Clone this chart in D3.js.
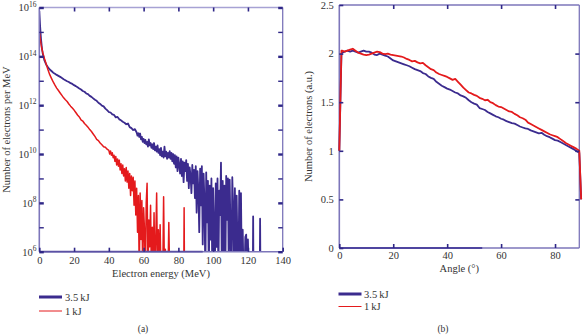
<!DOCTYPE html>
<html>
<head>
<meta charset="utf-8">
<script src="https://cdn.jsdelivr.net/npm/d3@7"></script>
<style>
    body { margin: 0; background: #fff; }
    svg { display: block; font-family: "Liberation Serif", "DejaVu Serif", serif; }
</style>
</head>
<body>
<svg id="chart" width="583" height="335"></svg>
<script>
// ---- data: (a) electron spectra, [energy MeV, log10(N per MeV)] ----
// values below 6 sit under the 10^6 floor and get clipped
const spec35kJ = [
    [0, 15.85], [0.5, 15.2], [1, 14.7], [1.5, 14.35], [2, 14.1], [2.5, 13.95], [3, 13.82],
    [4, 13.66], [5, 13.55], [6, 13.46], [7, 13.40], [8, 13.33], [9, 13.29], [10, 13.24],
    [11, 13.20], [12, 13.16], [13, 13.11], [14, 13.06], [15, 13.02], [16, 12.98], [17, 12.95],
    [18, 12.90], [19, 12.87], [20, 12.82], [21, 12.78], [22, 12.73], [23, 12.68], [24, 12.64],
    [25, 12.58], [26, 12.55], [27, 12.48], [28, 12.45], [29, 12.38], [30, 12.34], [31, 12.28],
    [32, 12.22], [33, 12.18], [34, 12.10], [35, 12.05], [36, 11.98], [37, 11.95], [38, 11.86],
    [39, 11.80], [40, 11.72], [41, 11.70], [42, 11.62], [43, 11.60], [44, 11.50], [45, 11.52],
    [46, 11.42], [47, 11.38], [48, 11.32], [49, 11.28], [50, 11.22], [51, 11.25], [52, 11.10],
    [53, 11.06], [54, 10.98], [55, 11.02], [56, 10.88], [56.5, 10.75], [57, 10.85], [57.5, 10.7],
    [58, 10.84], [58.5, 10.6], [59, 10.7], [59.5, 10.5], [60, 10.62], [60.5, 10.45], [61, 10.58],
    [61.5, 10.4], [62, 10.5], [62.5, 10.3], [63, 10.6], [63.5, 10.35], [64, 10.45], [64.5, 10.25],
    [65, 10.4], [65.5, 10.2], [66, 10.45], [66.5, 10.15], [67, 10.3], [67.5, 10.1], [68, 10.35],
    [68.5, 10.05], [69, 10.2], [69.5, 9.95], [70, 10.25], [70.5, 9.9], [71, 10.1], [71.5, 9.85],
    [72, 10.3], [72.5, 9.9], [73, 10.1], [73.5, 9.8], [74, 10.05], [74.5, 9.85], [75, 10.12],
    [75.5, 9.8], [76, 10.05], [76.5, 9.7], [77, 10.0], [77.5, 9.6], [78, 9.95], [78.5, 9.45],
    [79, 9.9], [79.5, 9.3], [80, 9.85], [80.5, 9.55], [81, 9.2], [81.5, 9.8], [82, 9.1],
    [82.5, 9.7], [83, 8.85], [83.5, 9.65], [84, 9.3], [84.5, 9.75], [85, 8.9], [85.5, 9.6],
    [86, 8.6], [86.5, 9.45], [87, 9.1], [87.5, 8.4], [88, 9.55], [88.5, 8.8], [89, 9.35],
    [89.5, 8.2], [90, 9.5], [90.5, 7.6], [91, 9.3], [91.5, 8.5], [92, 6.8], [92.5, 9.4],
    [93, 7.9], [93.5, 9.5], [94, 6.3], [94.5, 9.2], [95, 8.1], [95.5, 5], [96, 9.25],
    [96.5, 7.2], [97, 8.9], [97.5, 5], [98, 8.7], [98.5, 6.5], [99, 9.0], [99.5, 5], [100, 8.6],
    [100.5, 7.0], [101, 5], [101.5, 8.8], [102, 6.2], [102.5, 9.0], [103, 5], [103.5, 8.5],
    [104, 7.5], [104.5, 9.65], [105, 5], [105.5, 8.9], [106, 6.0], [106.5, 8.7], [107, 5],
    [107.5, 9.1], [108, 7.3], [108.5, 9.0], [109, 5], [109.5, 8.95], [110, 6.8], [110.5, 5],
    [111, 9.05], [111.5, 7.8], [112, 5], [112.5, 8.6], [113, 5], [113.5, 8.3], [114, 6.2],
    [114.5, 5], [115, 8.5], [115.5, 5], [116, 8.4], [116.5, 5], [117, 6.9], [117.5, 5],
    [118, 5], [118.5, 6.6], [119, 6.7], [119.5, 5], [120, 6.5], [120.5, 5], [122.8, 5],
    [123, 7.45], [123.2, 5], [126.8, 5], [127, 7.35], [127.2, 5], [130, 5]
];
const spec1kJ = [
    [0, 15.05], [0.5, 14.75], [1, 14.5], [1.5, 14.3], [2, 14.15], [3, 13.9], [4, 13.68],
    [5, 13.45], [6, 13.25], [7, 13.1], [8, 12.95], [9, 12.82], [10, 12.7], [11, 12.6],
    [12, 12.5], [13, 12.4], [14, 12.3], [15, 12.22], [16, 12.15], [17, 12.05], [18, 11.96],
    [19, 11.88], [20, 11.8], [21, 11.7], [22, 11.6], [23, 11.52], [24, 11.4], [25, 11.35],
    [26, 11.25], [27, 11.18], [28, 11.1], [29, 11.0], [30, 10.92], [31, 10.82], [32, 10.72],
    [33, 10.6], [34, 10.55], [35, 10.45], [36, 10.38], [37, 10.3], [38, 10.28], [39, 10.2],
    [40, 10.15], [40.5, 10.0], [41, 10.12], [41.5, 9.95], [42, 10.05], [42.5, 9.85], [43, 9.95],
    [43.5, 9.7], [44, 9.9], [44.5, 9.55], [45, 9.8], [45.5, 9.5], [46, 9.75], [46.5, 9.35],
    [47, 9.6], [47.5, 9.2], [48, 9.55], [48.5, 9.1], [49, 9.4], [49.5, 8.9], [50, 9.45],
    [50.5, 8.85], [51, 9.3], [51.5, 8.6], [52, 9.2], [52.5, 8.3], [53, 9.1], [53.5, 8.5],
    [54, 9.05], [54.5, 7.9], [55, 8.9], [55.5, 7.5], [56, 8.6], [56.5, 6.8], [57, 8.3],
    [57.5, 5], [58, 8.4], [58.5, 6.5], [59, 8.1], [59.5, 5], [60, 7.8], [60.5, 6.9], [61, 5],
    [61.5, 8.0], [62, 8.8], [62.5, 5], [63, 7.3], [63.5, 6.2], [64, 7.9], [64.5, 5], [65, 7.0],
    [65.5, 5], [66, 7.6], [66.5, 5], [67, 6.5], [67.5, 8.4], [68, 5], [68.5, 6.9], [69, 5],
    [69.5, 7.1], [70, 5], [70.5, 5.9], [71, 5], [71.5, 8.25], [72, 5], [72.5, 6.1], [73, 5],
    [74, 5], [74.5, 7.2], [75, 5], [83.1, 5], [83.3, 7.8], [83.5, 5], [85, 5]
];

// ---- data: (b) angular distribution ----
const angles = [0, 0.8, ...d3.range(1, 90), 89.7];
const dist35kJ = [1.0, 2.0,
    2.01, 2.02, 2.03, 2.02, 2.03, 2.02, 2.01, 2.02, 2.03, 2.02,
    2.02, 2.01, 1.99, 1.985, 2.0, 1.99, 1.98, 1.97, 1.95, 1.93,
    1.92, 1.91, 1.90, 1.89, 1.88, 1.87, 1.855, 1.84, 1.83, 1.82,
    1.80, 1.79, 1.765, 1.75, 1.74, 1.71, 1.69, 1.67, 1.655, 1.64,
    1.63, 1.615, 1.60, 1.59, 1.57, 1.56, 1.545, 1.52, 1.50, 1.485,
    1.475, 1.44, 1.43, 1.42, 1.40, 1.385, 1.37, 1.355, 1.345, 1.33,
    1.32, 1.305, 1.295, 1.285, 1.28, 1.265, 1.25, 1.24, 1.23, 1.225,
    1.21, 1.20, 1.19, 1.18, 1.185, 1.165, 1.15, 1.14, 1.125, 1.11,
    1.105, 1.09, 1.075, 1.06, 1.045, 1.03, 1.015, 0.995, 0.98,
    0.5];
const dist1kJ = [1.0, 2.03,
    2.03, 2.02, 2.03, 2.04, 2.05, 2.03, 2.01, 2.0, 1.99, 1.985,
    1.99, 2.0, 2.01, 2.02, 2.015, 2.0, 1.995, 2.0, 1.99, 1.985,
    1.98, 1.975, 1.97, 1.96, 1.945, 1.935, 1.92, 1.925, 1.91, 1.90,
    1.905, 1.88, 1.86, 1.84, 1.83, 1.805, 1.79, 1.78, 1.77, 1.76,
    1.745, 1.73, 1.74, 1.71, 1.68, 1.65, 1.625, 1.60, 1.59, 1.575,
    1.565, 1.545, 1.535, 1.52, 1.525, 1.50, 1.49, 1.47, 1.455, 1.45,
    1.435, 1.42, 1.405, 1.40, 1.38, 1.365, 1.345, 1.335, 1.32, 1.29,
    1.275, 1.26, 1.245, 1.23, 1.215, 1.20, 1.185, 1.17, 1.16, 1.15,
    1.14, 1.12, 1.10, 1.08, 1.065, 1.05, 1.035, 1.02, 1.0,
    0.5];

const seriesNames = ["3.5\u2009kJ", "1\u2009kJ"];
const energyTicks = [0, 20, 40, 60, 80, 100, 120, 140];
const decadeTicks = [6, 7, 8, 9, 10, 11, 12, 13, 14, 15, 16];
const angleTicks = [0, 20, 40, 60, 80];
const countTicks = [0, 0.5, 1, 1.5, 2, 2.5];

const blue = "#3b2b8e", red = "#e41a1c";
const frameColor = "#7d76ba", tickColor = "#2f2787", textColor = "#333";

let svg = d3.select("#chart");

function styleAxis(g) {
    g.select(".domain").remove();
    g.selectAll(".tick line").attr("stroke", tickColor).attr("stroke-width", 1.6);
    g.selectAll(".tick text")
        .attr("font-family", "Liberation Serif, DejaVu Serif, serif")
        .attr("font-size", 10.5)
        .attr("fill", textColor);
}

function frame(x0, x1, y0, y1, topColor) {
    svg.append("line").attr("x1", x0).attr("x2", x1).attr("y1", y0).attr("y2", y0)
        .attr("stroke", topColor).attr("stroke-width", 1.5);
    svg.append("line").attr("x1", x1).attr("x2", x1).attr("y1", y0).attr("y2", y1)
        .attr("stroke", frameColor).attr("stroke-width", 1.3);
    svg.append("line").attr("x1", x0).attr("x2", x0).attr("y1", y0).attr("y2", y1)
        .attr("stroke", frameColor).attr("stroke-width", 1.6);
    svg.append("line").attr("x1", x0).attr("x2", x1).attr("y1", y1).attr("y2", y1)
        .attr("stroke", frameColor).attr("stroke-width", 1.6);
}

function legend(x, y1, y2, txtX, b1, b2) {
    svg.append("line").attr("x1", x).attr("x2", x + 23).attr("y1", y1).attr("y2", y1)
        .attr("stroke", blue).attr("stroke-width", 3);
    svg.append("line").attr("x1", x).attr("x2", x + 23).attr("y1", y2).attr("y2", y2)
        .attr("stroke", red).attr("stroke-width", 1);
    svg.append("text").attr("x", txtX).attr("y", b1).attr("font-size", 10.5)
        .attr("fill", textColor).text(seriesNames[0]);
    svg.append("text").attr("x", txtX).attr("y", b2).attr("font-size", 10.5)
        .attr("fill", textColor).text(seriesNames[1]);
}

// ================= panel (a) =================
const xA = d3.scaleLinear().domain([0, 140]).range([39.3, 282.7]);
const yA = d3.scaleLog().domain([1e6, 1e16]).range([251.7, 7.5]);

svg.append("clipPath").attr("id", "clipA").append("rect")
    .attr("x", xA(0)).attr("y", yA(1e16))
    .attr("width", xA(140) - xA(0)).attr("height", yA(1e6) - yA(1e16));

let lineA = d3.line().x(d => xA(d[0])).y(d => yA(Math.pow(10, d[1])));
let plotA = svg.append("g").attr("clip-path", "url(#clipA)");
plotA.append("path").datum(spec35kJ).attr("d", lineA)
    .attr("fill", "none").attr("stroke", blue).attr("stroke-width", 1.8).attr("stroke-linejoin", "round");
plotA.append("path").datum(spec1kJ).attr("d", lineA)
    .attr("fill", "none").attr("stroke", red).attr("stroke-width", 1.5).attr("stroke-linejoin", "round");

frame(xA(0), xA(140), yA(1e16), yA(1e6), "#a7a2d4");
// darker stretch of the baseline
svg.append("line").attr("x1", xA(0)).attr("x2", xA(94)).attr("y1", yA(1e6)).attr("y2", yA(1e6))
    .attr("stroke", "#5b51a4").attr("stroke-width", 1.8);

svg.append("g").attr("transform", `translate(0,${yA(1e6)})`)
    .call(d3.axisBottom(xA).tickValues(energyTicks).tickSizeInner(-4).tickSizeOuter(0).tickPadding(5))
    .call(styleAxis);
svg.append("g").attr("transform", `translate(0,${yA(1e16)})`)
    .call(d3.axisTop(xA).tickValues(energyTicks.slice(1, -1)).tickSizeInner(-4).tickSizeOuter(0).tickFormat(""))
    .call(styleAxis);
let yAxisL = svg.append("g").attr("transform", `translate(${xA(0)},0)`)
    .call(d3.axisLeft(yA).tickValues(decadeTicks.map(p => Math.pow(10, p))).tickSizeInner(-4.5).tickSizeOuter(0).tickFormat(""))
    .call(styleAxis);
let yAxisR = svg.append("g").attr("transform", `translate(${xA(140)},0)`)
    .call(d3.axisRight(yA).tickValues(decadeTicks.map(p => Math.pow(10, p))).tickSizeInner(-4.5).tickSizeOuter(0).tickFormat(""))
    .call(styleAxis);
[yAxisL, yAxisR].forEach(g => g.selectAll(".tick line")
    .attr("stroke-width", (d) => Math.round(Math.log10(d)) % 2 === 0 ? 2.4 : 1.4));

// power-of-ten labels
let decLabels = svg.append("g");
decadeTicks.filter(p => p % 2 === 0).forEach(p => {
    let t = decLabels.append("text")
        .attr("x", 36.5).attr("y", yA(Math.pow(10, p)) + 3.8)
        .attr("text-anchor", "end").attr("font-size", 10.5).attr("fill", textColor);
    t.append("tspan").text("10");
    t.append("tspan").attr("dy", -4.6).attr("font-size", 7.5).text(p);
});

svg.append("text")
    .attr("transform", `translate(10,${(yA(1e6) + yA(1e16)) / 2}) rotate(-90)`)
    .attr("text-anchor", "middle").attr("font-size", 10.5).attr("fill", textColor)
    .text("Number of electrons per MeV");
svg.append("text")
    .attr("x", (xA(0) + xA(140)) / 2).attr("y", 277)
    .attr("text-anchor", "middle").attr("font-size", 10.5).attr("fill", textColor)
    .text("Electron energy (MeV)");

legend(39, 297, 311, 65, 301, 315);
svg.append("text").attr("x", 143).attr("y", 332).attr("text-anchor", "middle")
    .attr("font-size", 9.5).attr("fill", textColor).text("(a)");

// ================= panel (b) =================
const xB = d3.scaleLinear().domain([0, 89]).range([339.3, 579.3]);
const yB = d3.scaleLinear().domain([0, 2.5]).range([248, 5]);

frame(xB(0), xB(89), yB(2.5), yB(0), frameColor);
svg.append("line").attr("x1", xB(0)).attr("x2", xB(53)).attr("y1", yB(0)).attr("y2", yB(0))
    .attr("stroke", "#4f45a0").attr("stroke-width", 1.8);

let lineB = d3.line().x((d, i) => xB(angles[i])).y(d => yB(d));
svg.append("path").datum(dist35kJ).attr("d", lineB)
    .attr("fill", "none").attr("stroke", blue).attr("stroke-width", 1.8).attr("stroke-linejoin", "round");
svg.append("path").datum(dist1kJ).attr("d", lineB)
    .attr("fill", "none").attr("stroke", red).attr("stroke-width", 1.8).attr("stroke-linejoin", "round");

svg.append("g").attr("transform", `translate(0,${yB(0)})`)
    .call(d3.axisBottom(xB).tickValues(angleTicks).tickSizeInner(-4).tickSizeOuter(0).tickPadding(3.6))
    .call(styleAxis);
svg.append("g").attr("transform", `translate(0,${yB(2.5)})`)
    .call(d3.axisTop(xB).tickValues(angleTicks.slice(1)).tickSizeInner(-4).tickSizeOuter(0).tickFormat(""))
    .call(styleAxis);
svg.append("g").attr("transform", `translate(${xB(0)},0)`)
    .call(d3.axisLeft(yB).tickValues(countTicks).tickSizeInner(-4).tickSizeOuter(0).tickPadding(5.5).tickFormat(d3.format("")))
    .call(styleAxis);
svg.append("g").attr("transform", `translate(${xB(89)},0)`)
    .call(d3.axisRight(yB).tickValues(countTicks.slice(1, -1)).tickSizeInner(-4).tickSizeOuter(0).tickFormat(""))
    .call(styleAxis);

svg.append("text")
    .attr("transform", `translate(312,${(yB(0) + yB(2.5)) / 2}) rotate(-90)`)
    .attr("text-anchor", "middle").attr("font-size", 10.5).attr("fill", textColor)
    .text("Number of electrons (a.u.)");
svg.append("text")
    .attr("x", (xB(0) + xB(89)) / 2).attr("y", 272)
    .attr("text-anchor", "middle").attr("font-size", 10.5).attr("fill", textColor)
    .text("Angle (\u00b0)");

legend(338.5, 294, 306.5, 364, 297.5, 310);
svg.append("text").attr("x", 443).attr("y", 332).attr("text-anchor", "middle")
    .attr("font-size", 9.5).attr("fill", textColor).text("(b)");
</script>
</body>
</html>
